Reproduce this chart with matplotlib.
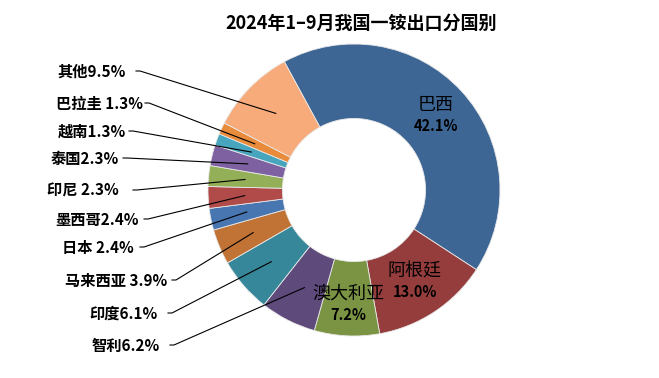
import matplotlib
matplotlib.use("Agg")
import matplotlib.pyplot as plt
import numpy as np

plt.rcParams["font.family"] = ["Noto Sans CJK SC", "DejaVu Sans"]

# data (clockwise from the top)
countries = ["巴西", "阿根廷", "澳大利亚", "智利", "印度", "马来西亚", "日本",
             "墨西哥", "印尼", "泰国", "越南", "巴拉圭", "其他"]
shares = [42.1, 13.0, 7.2, 6.2, 6.1, 3.9, 2.4, 2.4, 2.3, 2.3, 1.3, 1.3, 9.5]
colors = ["#3d6695", "#953d3c", "#7a9443", "#5f4a7c", "#37879a", "#c07334",
          "#4876b0", "#b14b4a", "#93b058", "#7d61a0", "#47a5be", "#e88b3b",
          "#f8ab7a"]
title = "2024年1–9月我国一铵出口分国别"

# layout in pixel coordinates (y measured from top)
W, H = 659, 378
CX, CY, R = 354, 190, 146
HOLE = 0.51
START = 118.5
inside = {"巴西": 0.76, "阿根廷": 0.75, "澳大利亚": 0.78}
# outer labels: right edge of text, text y, x where leader starts
outer_pos = {
    "其他": (126, 72, 136), "巴拉圭": (143, 104, 145), "越南": (126, 132, 129),
    "泰国": (119, 159, 123), "印尼": (119, 191, 133), "墨西哥": (139, 220, 144),
    "日本": (134, 248, 140), "马来西亚": (167, 281, 172), "印度": (158, 314, 168),
    "智利": (160, 346, 170),
}
name_sep = {"巴拉圭": " ", "印尼": " ", "日本": " ", "马来西亚": " "}

fig = plt.figure(figsize=(W / 100, H / 100), dpi=100)
ax = fig.add_axes([0, 0, 1, 1])

wedges, _ = ax.pie(shares, colors=colors, startangle=START, counterclock=False,
                   center=(CX, H - CY), radius=R,
                   wedgeprops=dict(width=R * HOLE, edgecolor="#e8e8e8", linewidth=0.6))
ax.set_xlim(0, W)
ax.set_ylim(0, H)
ax.set_aspect("equal")
ax.axis("off")

for w, name, val in zip(wedges, countries, shares):
    mid = np.deg2rad((w.theta1 + w.theta2) / 2)
    if name in inside:
        r = R * inside[name]
        x, y = CX + r * np.cos(mid), H - CY + r * np.sin(mid)
        ax.text(x, y + 10, name, ha="center", va="center", fontsize=13, color="black")
        ax.text(x, y - 11, f"{val:.1f}%", ha="center", va="center", fontsize=10.5,
                fontweight="bold", color="black")
    else:
        tx, ty, lx = outer_pos[name]
        ax.text(tx, H - ty, f"{name}{name_sep.get(name, '')}{val:.1f}%", ha="right",
                va="center", fontsize=11, fontweight="bold", color="black")
        r = R * 0.75
        ex, ey = CX + r * np.cos(mid), H - CY + r * np.sin(mid)
        ax.plot([lx, lx + 4, ex], [H - ty + 1, H - ty + 1, ey], color="black", lw=0.8)

ax.text(361, H - 23, title, ha="center", va="center", fontsize=13, fontweight="bold")

fig.savefig("out.png", dpi=100)
